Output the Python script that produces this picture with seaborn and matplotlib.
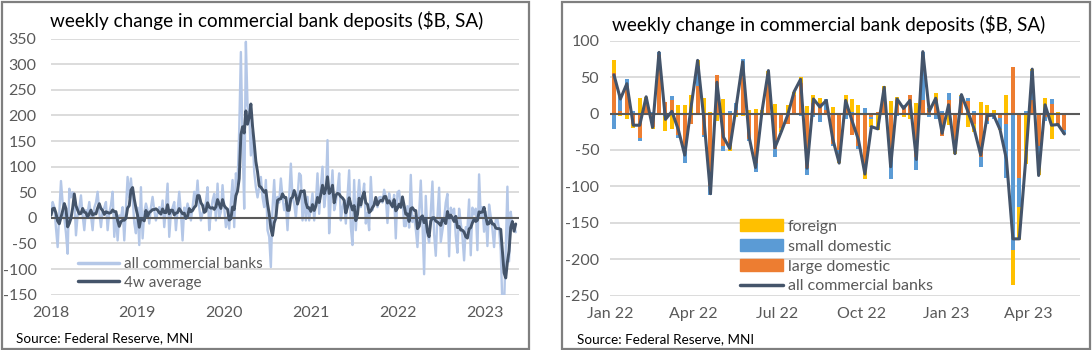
import pandas as pd
import numpy as np
import matplotlib
matplotlib.use('Agg')
import matplotlib.pyplot as plt
from matplotlib.patches import Rectangle, Patch
from matplotlib.lines import Line2D
import seaborn as sns

sns.set_style('white')
plt.rcParams['font.family'] = ['Lato', 'DejaVu Sans']
plt.rcParams['axes.unicode_minus'] = False

# weekly change in deposits, all commercial banks ($B, SA)
weekly_2018 = [5, 31, 21, -20, -57, 10, 72, 30, 0, -30,
               -70, 57, 40, 50, 40, -34, 5, 20, 44, 5,
               -24, 15, 10, 31, 5, -24, 20, 30, 51, 10,
               -18, 15, 20, 31, -24, 10, 25, 51, -37, 10,
               -44, 5, 0, 21, -44, 20, 80, 40, 77, 40,
               -10, -30]
weekly_2019 = [20, -53, 60, -40, 10, 28, 15, -11, 20, 41,
               15, -5, 10, 21, 5, 34, -18, 20, 67, -37,
               10, 20, 31, -24, 15, 51, 10, -44, 20, 10,
               28, 15, -5, 20, 51, 30, 73, 20, -5, 10,
               18, 30, 60, -24, 10, 34, 47, -5, 67, 0,
               12, 64]
weekly_2020 = [20, -18, 2, -21, 30, 74, -18, 87, 67, 171,
               324, 150, 18, 344, 220, 204, 122, 170, 90, 60,
               40, 60, 80, 40, 21, 74, -24, -37, -96, 20,
               74, 2, 41, 30, 77, 40, 15, 28, -24, 40,
               106, 40, 28, 0, 40, 87, 83, -5, 48, -5,
               41, -5, 20]
weekly_2021 = [48, -5, 30, 87, 8, 60, 100, 21, 48, 152,
               -30, 40, 93, 15, 30, 54, 87, -5, 20, 35,
               -11, 40, 93, -18, -53, 74, -24, 30, 74, 21,
               40, 67, -11, 10, -24, 80, 15, 30, 35, 21,
               40, 41, 30, 55, 41, -10, 48, 30, 20, 45,
               -40, 50]

# Jan 2022 - May 2023 by bank group
all_banks = [53, 20, 41, -16, -16, 23, -19, 84, -8, 3,
             -22, -57, 10, 73, -10, -110, 43, -32, -48, 10,
             71, -32, -74, 3, 59, -47, -25, -2, 30, 47,
             -75, 20, 9, 18, -35, -68, 18, -10, -36, -83,
             -18, -21, 36, -73, 20, 7, 18, -63, 85, 3,
             21, -27, 12, -55, 26, 3, -22, -57, -3, -2,
             -22, -63, -172, -172, -62, 61, -85, 12, -16, -15, -28]
large_domestic = [55, 3, 38, -14, -34, 12, -18, 80, 16, 19,
                  -30, -52, -15, 38, -30, -100, 53, -45, -45, 5,
                  55, -35, -68, 0, 54, -48, -20, -14, 25, 42,
                  -75, 15, 15, 5, -42, -50, 14, -30, -45, -78,
                  -5, 2, 33, -60, 18, 10, 26, -60, 19, 5,
                  20, -31, 18, -48, 20, 17, -15, -60, -10, -2,
                  -6, -15, 64, -89, -2, 19, -45, -5, 13, -17, -22]
small_domestic = [-21, 22, 10, 4, -4, 0, 2, 5, -3, 5,
                  -4, -16, 0, 27, -2, -12, 0, -7, 3, 10,
                  20, -2, -12, -2, 0, -12, 0, 0, 0, -3,
                  -10, -5, -12, 15, -2, -5, -8, 2, -3, 7,
                  -3, 0, -2, -30, -3, 2, -2, -17, 65, -5,
                  -7, 3, 10, -2, 4, 4, 3, -13, -5, -5,
                  -15, -73, -187, -39, 4, 40, -20, -5, 7, 0, -6]
foreign = [19, -3, -8, -6, 22, 11, -3, -1, -21, -21,
           12, 12, 25, 8, 22, 2, -10, 20, -6, -5,
           -4, 5, 6, 5, 5, 13, -5, 12, 5, 8,
           10, 10, 6, -2, 9, -13, 12, 18, 12, -12,
           -10, -23, 5, 17, 5, -5, -6, 14, 1, 3,
           8, 1, -16, -5, 2, -18, -10, 16, 12, 5,
           -1, 25, -48, -45, -67, 2, -20, 22, -35, 2, 0]

left_tick_labels = ['2018', '2019', '2020', '2021', '2022', '2023']
right_tick_dates = ['2022-01-01', '2022-04-01', '2022-07-01', '2022-10-01', '2023-01-01', '2023-04-01']
right_tick_labels = ['Jan 22', 'Apr 22', 'Jul 22', 'Oct 22', 'Jan 23', 'Apr 23']

title = 'weekly change in commercial bank deposits ($B, SA)'
source = 'Source: Federal Reserve, MNI'

light_blue = '#b4c7e7'
dark_line = '#44546a'
grid_col = '#d9d9d9'
axis_col = '#595959'
c_foreign, c_small, c_large = '#ffc000', '#5b9bd5', '#ed7d31'

weekly = weekly_2018 + weekly_2019 + weekly_2020 + weekly_2021 + all_banks
df = pd.DataFrame({'date': pd.date_range('2018-01-03', periods=len(weekly), freq='W-WED'),
                   'all commercial banks': weekly})
df['4w average'] = df['all commercial banks'].rolling(4, min_periods=1).mean()

W, H = 1092, 350
fig = plt.figure(figsize=(W / 100, H / 100), dpi=100)
fig.patch.set_facecolor('white')

def px_axes(x0, y0, x1, y1):
    return fig.add_axes([x0 / W, 1 - y1 / H, (x1 - x0) / W, (y1 - y0) / H])

def style_axes(ax):
    for s in ax.spines.values():
        s.set_visible(False)
    ax.grid(axis='y', color=grid_col, lw=1.3)
    ax.grid(axis='x', visible=False)
    ax.set_axisbelow(True)
    ax.tick_params(length=0, labelsize=11.5, colors=axis_col)
    ax.tick_params(axis='x', pad=8)
    ax.set_xlabel('')
    ax.set_ylabel('')

# ---------- left panel ----------
ax1 = px_axes(50.5, 38.7, 519.3, 294.7)
sns.lineplot(data=df, x='date', y='all commercial banks', ax=ax1, color=light_blue, lw=1.7, zorder=2)
ax1.axhline(0, color=axis_col, lw=1.5, zorder=3)
sns.lineplot(data=df, x='date', y='4w average', ax=ax1, color=dark_line, lw=2.1, zorder=4)
ax1.set_ylim(-150, 350)
ax1.set_yticks(range(-150, 351, 50))
ax1.set_xlim(pd.Timestamp('2018-01-01'), pd.Timestamp('2023-05-25'))
ax1.set_xticks(pd.to_datetime([y + '-01-01' for y in left_tick_labels]))
ax1.set_xticklabels(left_tick_labels)
style_axes(ax1)
ax1.tick_params(axis='y', pad=10)
leg1 = ax1.legend(handles=[Line2D([], [], color=light_blue, lw=2.5),
                           Line2D([], [], color=dark_line, lw=2.5)],
                  labels=['all commercial banks', '4w average'],
                  loc='upper left', bbox_to_anchor=(78 / W, 1 - 257 / H), bbox_transform=fig.transFigure,
                  frameon=False, fontsize=11, handlelength=2.7, handletextpad=0.3,
                  labelspacing=0.3, borderpad=0, borderaxespad=0)
for t in leg1.get_texts():
    t.set_color(axis_col)

# ---------- right panel ----------
start = pd.Timestamp('2022-01-05')
pos = np.arange(len(all_banks))
parts = np.array([large_domestic, small_domestic, foreign], dtype=float)
pos_parts = np.clip(parts, 0, None)
neg_parts = np.clip(parts, None, 0)

ax2 = px_axes(610.3, 40.7, 1080, 295.7)
bottom_p = np.zeros(len(pos))
bottom_n = np.zeros(len(pos))
for k, col in enumerate([c_large, c_small, c_foreign]):
    ax2.bar(pos, pos_parts[k], bottom=bottom_p, width=0.62, color=col, lw=0, zorder=2)
    ax2.bar(pos, neg_parts[k], bottom=bottom_n, width=0.62, color=col, lw=0, zorder=2)
    bottom_p += pos_parts[k]
    bottom_n += neg_parts[k]
ax2.axhline(0, color=axis_col, lw=1.5, zorder=3)
sns.lineplot(x=pos, y=all_banks, ax=ax2, color=dark_line, lw=2.2, zorder=4)
ax2.set_ylim(-250, 100)
ax2.set_yticks(range(-250, 101, 50))
tick_pos = (pd.to_datetime(right_tick_dates) - start).days / 7
ax2.set_xticks(tick_pos)
ax2.set_xticklabels(right_tick_labels)
ax2.set_xlim((pd.Timestamp('2022-01-01') - start).days / 7, (pd.Timestamp('2023-05-27') - start).days / 7)
style_axes(ax2)
ax2.tick_params(axis='y', pad=8)
leg2 = ax2.legend(handles=[Patch(color=c_foreign), Patch(color=c_small), Patch(color=c_large),
                           Line2D([], [], color=dark_line, lw=2.5)],
                  labels=['foreign', 'small domestic', 'large domestic', 'all commercial banks'],
                  loc='upper left', bbox_to_anchor=(740 / W, 1 - 219 / H), bbox_transform=fig.transFigure,
                  frameon=False, fontsize=11.5, handlelength=2.7, handleheight=0.8, handletextpad=0.3,
                  labelspacing=0.33, borderpad=0, borderaxespad=0)
for t in leg2.get_texts():
    t.set_color(axis_col)

# ---------- titles, sources, frames ----------
fig.text(49.6 / W, 1 - 21 / H, title, ha='left', va='center', fontsize=13.6, color='black')
fig.text(612 / W, 1 - 24 / H, title, ha='left', va='center', fontsize=13.6, color='black')
fig.text(15.6 / W, 1 - 338 / H, source, ha='left', va='center', fontsize=9.7, color='black')
fig.text(577 / W, 1 - 339 / H, source, ha='left', va='center', fontsize=9.7, color='black')

for x0, x1 in [(1.5, 529), (561.5, 1090)]:
    fig.add_artist(Rectangle((x0 / W, 1.5 / H), (x1 - x0) / W, (H - 3.5) / H,
                             transform=fig.transFigure, fill=False, ec='#7f7f7f', lw=1.6))

fig.savefig('out.png', dpi=100, facecolor='white')
